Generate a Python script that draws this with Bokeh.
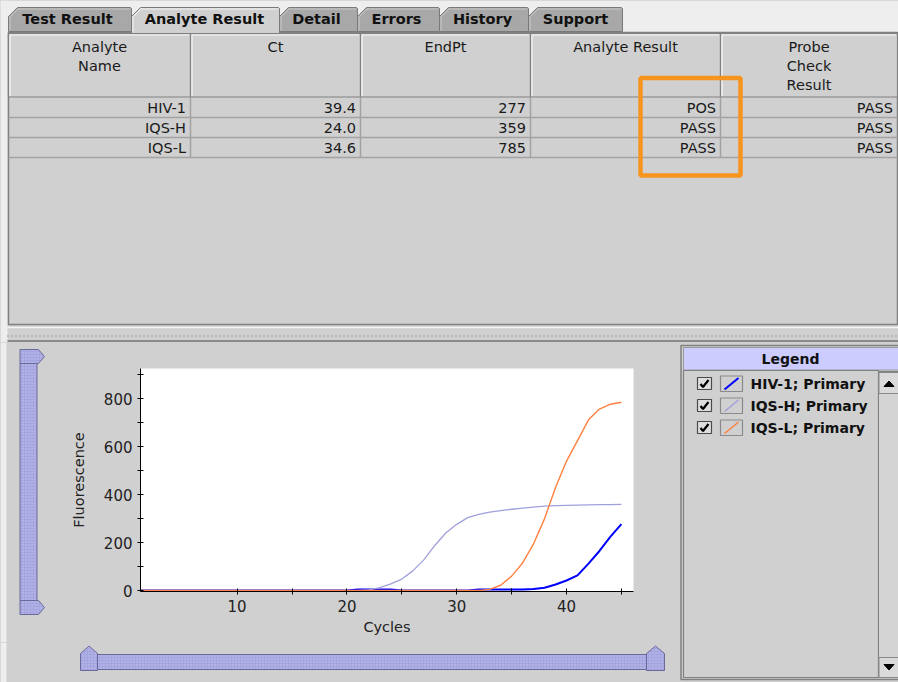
from bokeh.plotting import figure
from bokeh.layouts import row, column
from bokeh.models import Range1d, FixedTicker
from bokeh.core.properties import value
from bokeh.embed import file_html
from bokeh.resources import INLINE

# ---------------- data ----------------
tabs = ["Test Result", "Analyte Result", "Detail", "Errors", "History", "Support"]
selected_tab = "Analyte Result"
header_lines = [["Analyte", "Name"], ["Ct"], ["EndPt"], ["Analyte Result"], ["Probe", "Check", "Result"]]
analytes = ["HIV-1", "IQS-H", "IQS-L"]
ct = [39.4, 24.0, 34.6]
endpt = [277, 359, 785]
analyte_result = ["POS", "PASS", "PASS"]
probe_check = ["PASS", "PASS", "PASS"]

cycles = [1, 2, 3, 4, 5, 6, 7, 8, 9, 10, 11, 12, 13, 14, 15, 16, 17, 18, 19, 20,
          21, 22, 23, 24, 25, 26, 27, 28, 29, 30, 31, 32, 33, 34, 35, 36, 37, 38, 39, 40,
          41, 42, 43, 44, 45]
hiv1 = [0, 0, 0, 0, 0, 0, 0, 0, 0, 0, 0, 0, 0, 0, 0, 0, 0, 0, 0, 0,
        4, 4, 4, 4, 0, 0, 0, 0, 0, 0, 0, 4, 4, 4, 4, 4, 6, 12, 25, 42,
        63, 112, 165, 225, 277]
iqs_h = [0, 0, 0, 0, 0, 0, 0, 0, 0, 0, 0, 0, 0, 0, 0, 0, 0, 0, 0, 0,
         0, 3, 12, 28, 48, 82, 128, 188, 240, 276, 304, 318, 327, 333, 339, 344, 348, 352, 354, 355,
         356, 357, 358, 358, 359]
iqs_l = [0, 0, 0, 0, 0, 0, 0, 0, 0, 0, 0, 0, 0, 0, 0, 0, 0, 0, 0, 0,
         0, 0, 0, 0, 0, 0, 0, 0, 0, 0, 0, 0, 5, 22, 60, 115, 195, 300, 430, 540,
         625, 712, 757, 777, 785]
series_names = ["HIV-1; Primary", "IQS-H; Primary", "IQS-L; Primary"]

x_ticks = [10, 20, 30, 40]
x_minor = [15, 25, 35, 45]
y_ticks = [0, 200, 400, 600, 800]
y_minor = [100, 300, 500, 700, 900]

# ---------------- style / layout ----------------
FONT = "DejaVu Sans"
BG = "#d0d0d0"
LIGHT = "#eeeeee"
DARK = "#808080"
colors = ["#0000ff", "#a0a0dc", "#ff8040"]
widths = [2, 1.3, 1.4]
SLIDER_FILL = "#a4a4de"
SLIDER_LINE = "#6a6a9a"

tab_left = [8, 131, 279, 357, 439, 528]
tab_right = [131, 279, 357, 439, 528, 622]
tab_text_x = [67, 204, 316, 396, 482, 575]
col_x = [8, 190, 360, 530, 720, 897]


def chrome(w, h, x0, x1, y_top, y_bot):
    p = figure(width=w, height=h, x_range=Range1d(x0, x1), y_range=Range1d(y_bot, y_top),
               toolbar_location=None, output_backend="svg", min_border=0,
               x_axis_location=None, y_axis_location=None, frame_align=False,
               background_fill_color=BG, border_fill_color=BG, outline_line_color=None)
    p.xgrid.visible = False
    p.ygrid.visible = False
    return p


def txt(p, x, y, t, size="14.5px", bold=False, align="center", color="#1a1a1a"):
    p.text(x=x, y=y, text=t, text_font=value(FONT), text_font_size=value(size),
           text_font_style="bold" if bold else "normal", text_align=align,
           text_baseline="middle", text_color=color)


# ---------------- top: tabs + table ----------------
top = chrome(898, 342, 0, 898, 0, 342)
top.quad(left=[0], right=[898], top=[0], bottom=[32], fill_color=LIGHT, line_color=None)
top.quad(left=[0], right=[7], top=[0], bottom=[342], fill_color=LIGHT, line_color=None)

# table frame
top.quad(left=[8], right=[897], top=[32], bottom=[324], fill_color=BG, line_color=DARK, line_width=1.5)

# tabs
for i, name in enumerate(tabs):
    x0, x1 = tab_left[i], tab_right[i]
    sel = name == selected_tab
    yb = 33 if sel else 31
    top.patch(x=[x0, x0, x0 + 9, x1 - 1, x1, x1], y=[yb, 16, 7, 7, 8, yb],
              fill_color=BG if sel else "#a8a8a8", line_color="#7a7a7a", line_width=1)
    top.line(x=[x0 + 1.5, x0 + 1.5, x0 + 9.5, x1 - 2], y=[yb - 1, 16.5, 8.5, 8.5],
             line_color="#f4f4f4" if sel else "#c8c8c8", line_width=1)
    txt(top, tab_text_x[i], 18.5, [name], size="14.5px", bold=True, color="#111111")

# header cells
for i in range(len(header_lines)):
    l, r = col_x[i], col_x[i + 1]
    top.quad(left=[l], right=[r], top=[33], bottom=[96.5], fill_color=BG, line_color=DARK, line_width=1.2)
    top.line(x=[l + 1.5, l + 1.5, r - 1.5], y=[95.5, 34.5, 34.5], line_color="#f6f6f6", line_width=1.2)
    lines = header_lines[i]
    for k, t in enumerate(lines):
        txt(top, (l + r) / 2, 46.5 + 19 * k, [t])

# data row grid
top.segment(x0=[8, 8, 8], x1=[897, 897, 897], y0=[117, 137, 157], y1=[117, 137, 157],
            line_color="#a2a2a2", line_width=1.5)
top.segment(x0=col_x[1:5], x1=col_x[1:5], y0=[97] * 4, y1=[157] * 4, line_color="#a2a2a2", line_width=1.5)

row_y = [107 + 20 * r for r in range(len(analytes))]
cols_vals = [analytes, [f"{v:.1f}" for v in ct], [str(v) for v in endpt], analyte_result, probe_check]
for i, vals in enumerate(cols_vals):
    txt(top, [col_x[i + 1] - 4.5] * len(vals), row_y, vals, align="right")

# highlight box around the result column
top.quad(left=[640], right=[740], top=[77.5], bottom=[175], fill_color=None,
         line_color="#f7941d", line_width=4.5)

# splitter
top.segment(x0=[7], x1=[898], y0=[327], y1=[327], line_color="#f4f4f4", line_width=1.5)
top.segment(x0=[7], x1=[898], y0=[335.5], y1=[335.5], line_color="#8c8c8c", line_width=1.5, line_dash="1 3")
top.segment(x0=[7], x1=[898], y0=[340.5], y1=[340.5], line_color="#8a8a8a", line_width=2)

# ---------------- vertical slider ----------------
vs = chrome(62, 300, 0, 62, 342, 642)
vs.quad(left=[0], right=[6], top=[342], bottom=[642], fill_color=LIGHT, line_color=None)
vs.quad(left=[19.5], right=[36.5], top=[363], bottom=[600], fill_color=SLIDER_FILL, line_color=SLIDER_LINE,
        hatch_pattern="dot", hatch_color="#c8c8f2", hatch_scale=3, hatch_weight=1)
vs.patches(xs=[[19.5, 38, 44, 38, 19.5], [19.5, 38, 44, 38, 19.5]],
           ys=[[349, 349, 356, 363, 363], [600, 600, 607, 614, 614]],
           fill_color=SLIDER_FILL, line_color=SLIDER_LINE,
           hatch_pattern="dot", hatch_color="#c8c8f2", hatch_scale=3, hatch_weight=1)

# ---------------- chart ----------------
chart = figure(width=610, height=300, x_range=Range1d(1.2, 46.1), y_range=Range1d(-4, 926),
               toolbar_location=None, output_backend="svg", frame_align=False,
               min_border_left=78, min_border_right=39, min_border_top=26, min_border_bottom=51,
               background_fill_color="white", border_fill_color=BG, outline_line_color=None)
chart.xgrid.visible = False
chart.ygrid.visible = False
for s, c, w in zip([hiv1, iqs_h, iqs_l], colors, widths):
    chart.line(cycles, s, line_color=c, line_width=w)
chart.xaxis.ticker = FixedTicker(ticks=x_ticks, minor_ticks=x_minor)
chart.yaxis.ticker = FixedTicker(ticks=y_ticks, minor_ticks=y_minor)
chart.xaxis.axis_label = "Cycles"
chart.yaxis.axis_label = "Fluorescence"
for ax in (chart.xaxis[0], chart.yaxis[0]):
    ax.axis_line_color = "#000000"
    ax.major_tick_line_color = "#000000"
    ax.minor_tick_line_color = "#000000"
    ax.major_tick_in = 3
    ax.major_tick_out = 3
    ax.minor_tick_in = 3
    ax.minor_tick_out = 3
    ax.major_label_text_font = FONT
    ax.major_label_text_font_size = "15px"
    ax.major_label_text_color = "#222222"
    ax.major_label_standoff = 5
    ax.axis_label_text_font = FONT
    ax.axis_label_text_font_size = "14.5px"
    ax.axis_label_text_font_style = "normal"
    ax.axis_label_text_color = "#222222"
chart.xaxis.axis_label_standoff = 4
chart.yaxis.axis_label_standoff = 14

# ---------------- horizontal slider ----------------
hs = chrome(672, 40, 0, 672, 642, 682)
hs.quad(left=[0], right=[6], top=[642], bottom=[682], fill_color=LIGHT, line_color=None)
hs.quad(left=[97], right=[646], top=[654], bottom=[669], fill_color=SLIDER_FILL, line_color=SLIDER_LINE,
        hatch_pattern="dot", hatch_color="#c8c8f2", hatch_scale=3, hatch_weight=1)
hs.patches(xs=[[80, 80, 88.5, 97, 97], [646, 646, 655, 664, 664]],
           ys=[[670, 653, 645.5, 653, 670], [670, 653, 645.5, 653, 670]],
           fill_color=SLIDER_FILL, line_color=SLIDER_LINE,
           hatch_pattern="dot", hatch_color="#c8c8f2", hatch_scale=3, hatch_weight=1)

# ---------------- legend panel ----------------
lg = chrome(226, 340, 672, 898, 342, 682)
lg.quad(left=[680.5], right=[905], top=[345], bottom=[679], fill_color=BG, line_color=DARK, line_width=1.5)
lg.quad(left=[683], right=[905], top=[347], bottom=[369.5], fill_color="#ccccff", line_color="#9a9a9a", line_width=1)
txt(lg, 790, 358.5, ["Legend"], size="14px", bold=True, color="#111111")
lg.quad(left=[683], right=[878], top=[370], bottom=[677], fill_color=BG, line_color=DARK, line_width=1.2)
lg.quad(left=[878], right=[905], top=[371], bottom=[677], fill_color="#d4d4d4", line_color=DARK, line_width=1)
lg.quad(left=[878.5, 878.5], right=[905, 905], top=[372, 657], bottom=[393, 677],
        fill_color="#dadada", line_color="#8a8a8a", line_width=1)
lg.patches(xs=[[883.5, 893.5, 888.5], [883.5, 893.5, 888.5]], ys=[[386, 386, 380.5], [664, 664, 669.5]],
           fill_color="#000000", line_color="#000000")

item_y = [383 + 22 * i for i in range(len(series_names))]
lg.quad(left=[697] * 3, right=[711] * 3, top=[y - 6 for y in item_y], bottom=[y + 6 for y in item_y],
        fill_color="#dedede", line_color="#4a4a4a", line_width=1.2)
lg.multi_line(xs=[[700, 702.5, 708]] * 3, ys=[[y + 0.5, y + 3.5, y - 3.5] for y in item_y],
              line_color="#000000", line_width=2.2)
lg.quad(left=[720] * 3, right=[742] * 3, top=[y - 7.5 for y in item_y], bottom=[y + 8 for y in item_y],
        fill_color=BG, line_color="#8a8a8a", line_width=1.2)
lg.segment(x0=[724] * 3, x1=[738] * 3, y0=[y + 6 for y in item_y], y1=[y - 5.5 for y in item_y],
           line_color=colors, line_width=[2, 1.5, 1.5])
txt(lg, [750] * 3, item_y, series_names, size="14px", bold=True, align="left", color="#111111")

# ---------------- page ----------------
bg_style = {"background-color": BG}
left_top = row(vs, chart, styles=bg_style)
left_block = column(left_top, hs, styles=bg_style)
bottom_block = row(left_block, lg, styles=bg_style)
page = column(top, bottom_block, styles=bg_style)
open("out.html", "w").write(file_html(page, INLINE))
